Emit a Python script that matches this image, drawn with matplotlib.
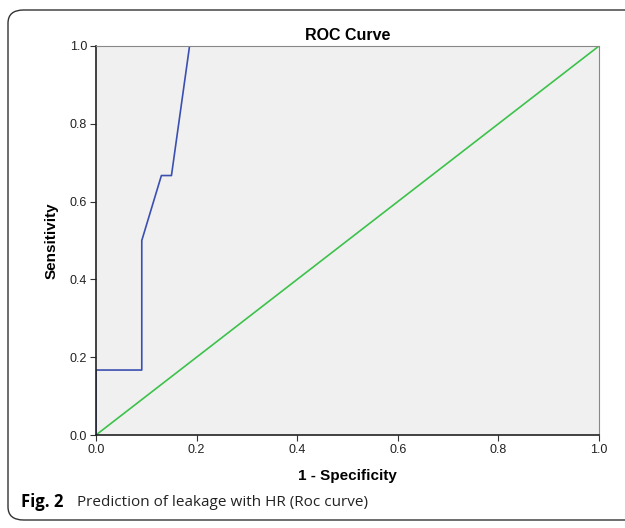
import matplotlib
matplotlib.use("Agg")
import matplotlib.pyplot as plt
from matplotlib.patches import FancyBboxPatch
from matplotlib import font_manager

fpr = [0.0, 0.0, 0.091, 0.091, 0.13, 0.15, 0.186, 1.0]
tpr = [0.0, 0.167, 0.167, 0.5, 0.667, 0.667, 1.0, 1.0]
ref = [0.0, 1.0]
ticks = [0.0, 0.2, 0.4, 0.6, 0.8, 1.0]
tick_labels = ["0.0", "0.2", "0.4", "0.6", "0.8", "1.0"]

names = {f.name for f in font_manager.fontManager.ttflist}
narrow = "Liberation Sans Narrow" if "Liberation Sans Narrow" in names else "Liberation Sans"
plt.rcParams["font.family"] = ["Liberation Sans", "DejaVu Sans"]

fig = plt.figure(figsize=(6.25, 5.28), dpi=100)
frame = FancyBboxPatch((8/625, 8/528), 640/625, 510/528,
                       boxstyle="round,pad=0,rounding_size=0.025",
                       transform=fig.transFigure, fill=False,
                       edgecolor="#333333", linewidth=1.0)
fig.patches.append(frame)

ax = fig.add_axes([96/625, 1-435/528, 503/625, 389/528])
ax.set_facecolor("#f0f0f0")
ax.plot(ref, ref, color="#3cc24a", linewidth=1.2)
ax.plot(fpr, tpr, color="#3b4fb0", linewidth=1.2)
ax.set_xlim(0, 1)
ax.set_ylim(0, 1)
ax.set_xticks(ticks)
ax.set_xticklabels(tick_labels)
ax.set_yticks(ticks)
ax.set_yticklabels(tick_labels)
ax.tick_params(axis="both", labelsize=9, direction="out", length=4.5, pad=2,
               color="#333333", labelcolor="#222222")
for s in ["top", "right"]:
    ax.spines[s].set_color("#888888")
for s in ["left", "bottom"]:
    ax.spines[s].set_color("#222222")
    ax.spines[s].set_linewidth(1.2)
ax.set_title("ROC Curve", fontsize=11.5, fontweight="bold", pad=4)
ax.set_xlabel("1 - Specificity", fontsize=11, fontweight="bold", labelpad=9)
ax.set_ylabel("Sensitivity", fontsize=11, fontweight="bold", labelpad=8,
              family=narrow)

fig.text(21/625, 1-502/528, "Fig. 2", fontsize=12, fontweight="bold",
         family="Open Sans", va="center")
fig.text(77/625, 1-502/528, "Prediction of leakage with HR (Roc curve)",
         fontsize=11, family="Open Sans", va="center", color="#222222")

fig.savefig("out.png", dpi=100)
